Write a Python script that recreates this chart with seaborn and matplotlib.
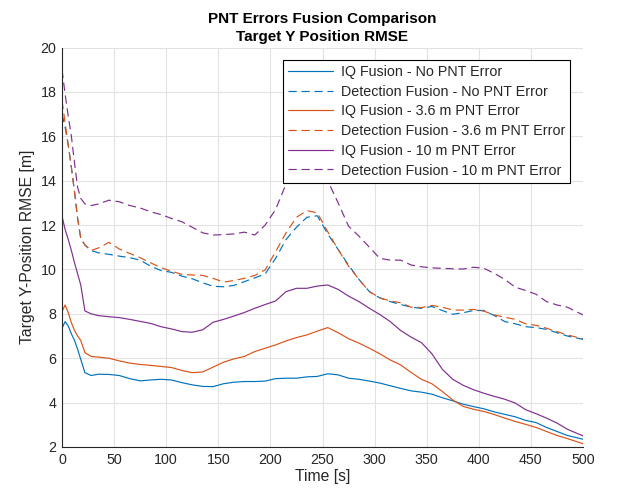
import matplotlib
matplotlib.use("Agg")
import matplotlib.pyplot as plt
import numpy as np
import pandas as pd
import seaborn as sns

# ---- data ----
time_s = [0, 3, 6, 9, 12, 15, 18, 22, 28, 35, 45, 55, 65, 75, 85, 95, 105, 115, 125, 135,
          145, 155, 165, 175, 185, 195, 205, 215, 225, 235, 245, 255, 265, 275, 285, 295,
          305, 315, 325, 335, 345, 355, 365, 375, 385, 395, 405, 415, 425, 435, 445, 455,
          465, 475, 485, 500]

iq_no_pnt = [7.35, 7.65, 7.45, 7.1, 6.8, 6.4, 5.95, 5.35, 5.22, 5.28, 5.27, 5.22, 5.08, 4.98,
             5.02, 5.05, 5.02, 4.9, 4.8, 4.73, 4.72, 4.85, 4.92, 4.95, 4.95, 4.97, 5.08, 5.1,
             5.1, 5.16, 5.18, 5.3, 5.25, 5.1, 5.05, 4.97, 4.88, 4.76, 4.64, 4.53, 4.47, 4.38,
             4.22, 4.08, 3.93, 3.82, 3.72, 3.58, 3.47, 3.36, 3.2, 3.1, 2.88, 2.7, 2.52, 2.35]

det_no_pnt = [17.0, 16.4, 15.6, 14.6, 13.5, 12.3, 11.4, 11.1, 10.85, 10.75, 10.68, 10.6, 10.53,
              10.42, 10.15, 9.95, 9.87, 9.7, 9.58, 9.4, 9.24, 9.22, 9.28, 9.45, 9.62, 9.8, 10.5,
              11.35, 11.9, 12.35, 12.42, 11.6, 10.9, 10.2, 9.55, 9.0, 8.72, 8.55, 8.42, 8.3,
              8.25, 8.33, 8.15, 7.98, 8.05, 8.15, 8.15, 7.92, 7.65, 7.55, 7.42, 7.38, 7.3, 7.15,
              7.0, 6.85]

iq_36_pnt = [8.1, 8.4, 8.05, 7.6, 7.25, 7.0, 6.8, 6.25, 6.08, 6.05, 6.0, 5.88, 5.78, 5.72, 5.68,
             5.63, 5.58, 5.45, 5.35, 5.38, 5.6, 5.82, 5.97, 6.08, 6.3, 6.45, 6.6, 6.78, 6.93,
             7.05, 7.22, 7.38, 7.15, 6.88, 6.68, 6.45, 6.2, 5.92, 5.7, 5.36, 5.05, 4.85, 4.5,
             4.12, 3.83, 3.7, 3.6, 3.46, 3.3, 3.15, 3.02, 2.88, 2.7, 2.52, 2.38, 2.15]

det_36_pnt = [17.6, 16.6, 15.6, 14.6, 13.5, 12.3, 11.4, 11.1, 10.85, 10.97, 11.22, 10.92, 10.72,
              10.53, 10.3, 10.08, 9.92, 9.78, 9.75, 9.73, 9.6, 9.43, 9.5, 9.6, 9.73, 9.98, 10.8,
              11.65, 12.35, 12.65, 12.55, 11.7, 10.9, 10.15, 9.55, 9.0, 8.72, 8.58, 8.5, 8.3,
              8.28, 8.38, 8.3, 8.17, 8.17, 8.2, 8.12, 7.95, 7.85, 7.75, 7.55, 7.48, 7.35, 7.2,
              7.05, 6.88]

iq_10_pnt = [12.4, 11.8, 11.35, 10.85, 10.3, 9.8, 9.3, 8.13, 8.0, 7.92, 7.87, 7.83, 7.75, 7.66,
             7.57, 7.42, 7.32, 7.2, 7.17, 7.28, 7.62, 7.75, 7.9, 8.06, 8.25, 8.42, 8.58, 9.0,
             9.15, 9.15, 9.25, 9.3, 9.1, 8.8, 8.55, 8.25, 7.97, 7.65, 7.25, 6.95, 6.7, 6.2, 5.5,
             5.05, 4.78, 4.58, 4.42, 4.28, 4.15, 3.98, 3.68, 3.5, 3.3, 3.08, 2.8, 2.5]

det_10_pnt = [19.0, 17.9, 16.9, 16.0, 14.8, 13.7, 13.2, 12.95, 12.88, 12.95, 13.12, 13.05, 12.88,
              12.77, 12.6, 12.47, 12.3, 12.15, 11.9, 11.65, 11.55, 11.57, 11.6, 11.68, 11.55,
              12.0, 12.7, 13.85, 14.8, 15.5, 15.4, 14.0, 13.0, 11.95, 11.5, 11.0, 10.5, 10.42,
              10.42, 10.2, 10.12, 10.07, 10.05, 10.03, 10.02, 10.1, 10.05, 9.82, 9.55, 9.2,
              9.05, 8.88, 8.55, 8.4, 8.3, 7.95]

series_labels = [
    "IQ Fusion - No PNT Error",
    "Detection Fusion - No PNT Error",
    "IQ Fusion - 3.6 m PNT Error",
    "Detection Fusion - 3.6 m PNT Error",
    "IQ Fusion - 10 m PNT Error",
    "Detection Fusion - 10 m PNT Error",
]
series_values = [iq_no_pnt, det_no_pnt, iq_36_pnt, det_36_pnt, iq_10_pnt, det_10_pnt]
x_ticks = [0, 50, 100, 150, 200, 250, 300, 350, 400, 450, 500]
y_ticks = [2, 4, 6, 8, 10, 12, 14, 16, 18, 20]

df = pd.concat(
    [pd.DataFrame({"Time": time_s, "RMSE": vals, "Series": lab})
     for lab, vals in zip(series_labels, series_values)],
    ignore_index=True,
)

# ---- style ----
sns.set_theme(style="whitegrid")
plt.rcParams["font.family"] = ["Liberation Sans", "DejaVu Sans"]

blue, orange, purple = "#0072BD", "#D95319", "#7E2F8E"
palette = dict(zip(series_labels, [blue, blue, orange, orange, purple, purple]))
dashes = dict(zip(series_labels, ["", (7, 4), "", (7, 4), "", (7, 4)]))

fig = plt.figure(figsize=(6.18, 5.04), dpi=100)
ax = fig.add_axes([62 / 618, 1 - 447 / 504, 521 / 618, 399.5 / 504])

sns.lineplot(data=df, x="Time", y="RMSE", hue="Series", style="Series",
             hue_order=series_labels, style_order=series_labels,
             palette=palette, dashes=dashes, linewidth=0.85, estimator=None,
             sort=False, ax=ax)

ax.set_xlim(0, 500)
ax.set_ylim(2, 20)
ax.set_xticks(x_ticks)
ax.set_yticks(y_ticks)
ax.grid(True, color="#e2e2e2", linewidth=0.8)
for s in ["top", "right"]:
    ax.spines[s].set_visible(False)
for s in ["left", "bottom"]:
    ax.spines[s].set_color("#262626")
    ax.spines[s].set_linewidth(0.8)
ax.tick_params(direction="in", length=4, width=0.7, color="#262626",
               labelcolor="#262626", labelsize=10.3, pad=4)

ax.set_xlabel("Time [s]", fontsize=11.3, color="#262626", labelpad=2)
ax.set_ylabel("Target Y-Position RMSE [m]", fontsize=11.3, color="#262626", labelpad=4)
ax.set_title("PNT Errors Fusion Comparison\nTarget Y Position RMSE",
             fontsize=11, fontweight="bold", color="black", pad=5, linespacing=1.3)

leg = ax.legend(loc="upper right", bbox_to_anchor=(0.975, 0.969), borderaxespad=0,
                fontsize=10.3, frameon=True, fancybox=False, framealpha=1,
                edgecolor="black", handlelength=3.2, handletextpad=0.5,
                labelspacing=0.4, borderpad=0.35)
leg.get_frame().set_linewidth(0.8)
for line in leg.get_lines():
    line.set_linewidth(0.85)

fig.savefig("out.png", dpi=100)
